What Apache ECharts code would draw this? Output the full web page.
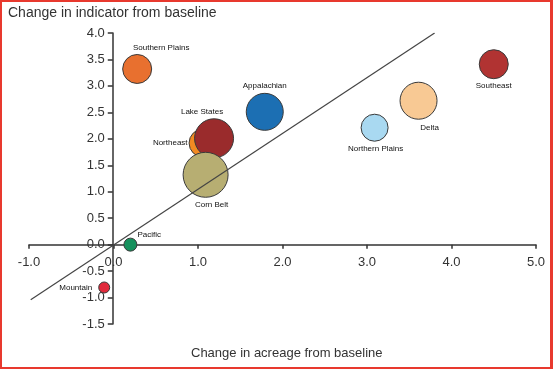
<!DOCTYPE html>
<html>
<head>
<meta charset="utf-8">
<script src="https://cdn.jsdelivr.net/npm/echarts@6/dist/echarts.min.js"></script>
<style>
  html, body { margin: 0; padding: 0; background: #fff; }
  #chart { position: absolute; left: 0; top: 0; width: 553px; height: 369px; }
  #frame { position: absolute; left: 0; top: 0; width: 553px; height: 369px; box-sizing: border-box;
           border: 2px solid #e8392e; border-right-width: 3px; pointer-events: none; z-index: 10; }
</style>
</head>
<body>
<div id="chart"></div>
<div id="frame"></div>
<script>
// ---- data ----
const regions    = ['Southern Plains', 'Appalachian', 'Northeast', 'Lake States', 'Corn Belt', 'Pacific', 'Mountain', 'Northern Plains', 'Delta', 'Southeast'];
const acreage    = [0.28, 1.79, 1.06, 1.19, 1.09, 0.20, -0.11, 3.09, 3.61, 4.50];
const indicator  = [3.32, 2.51, 1.92, 2.01, 1.32, 0.00, -0.81, 2.21, 2.72, 3.41];
const bubbleSize = [29, 37, 28, 39, 45, 13, 11, 27, 37, 29];
const xTicks = [-1, 0, 1, 2, 3, 4, 5];
const yTicks = [-1.5, -1, -0.5, 0, 0.5, 1, 1.5, 2, 2.5, 3, 3.5, 4];
const refLineX = [-0.98, 3.80];
const refLineY = [-1.04, 4.00];

// ---- styles ----
const colors = ['#e8702f', '#1c6fb3', '#f28a22', '#9a2b2c', '#b7ae72', '#16915d', '#e12a3c', '#a9d9f1', '#f8c994', '#b13332'];
const labelPos = [
  { position: 'top', distance: 2, offset: [24, 0] },
  { position: 'top', distance: 3, offset: [0, 0] },
  { position: 'left', distance: 1, offset: [0, 0] },
  { position: 'top', distance: 2, offset: [-12, 0] },
  { position: 'bottom', distance: 3, offset: [6, 0] },
  { position: 'right', distance: 0, offset: [0, -10] },
  { position: 'left', distance: 6, offset: [0, 0] },
  { position: 'bottom', distance: 3, offset: [1, 0] },
  { position: 'bottom', distance: 4, offset: [11, 0] },
  { position: 'bottom', distance: 3, offset: [0, 0] }
];

const FONT = '"Liberation Sans", Arial, Helvetica, sans-serif';

const bubbles = regions.map((name, i) => ({
  name: name,
  value: [acreage[i], indicator[i], bubbleSize[i]],
  itemStyle: { color: colors[i], borderColor: '#3a3a3a', borderWidth: 1, opacity: 1 },
  label: Object.assign({ show: true, formatter: '{b}', fontSize: 8, color: '#111', fontFamily: FONT }, labelPos[i])
}));

const axisCommon = {
  axisLine: { onZero: false, lineStyle: { color: '#333', width: 1.5 } },
  axisTick: { show: true, inside: false, lineStyle: { color: '#333', width: 1.5 } },
  splitLine: { show: false }
};

const chart = echarts.init(document.getElementById('chart'), null, { renderer: 'canvas' });
const option = {
  animation: false,
  backgroundColor: '#fff',
  grid: { left: 29, right: 17, top: 33, bottom: 45, containLabel: false },
  xAxis: Object.assign({}, axisCommon, {
    type: 'value', position: 'bottom', offset: 0,
    min: xTicks[0], max: xTicks[xTicks.length - 1], interval: 1,
    axisTick: Object.assign({}, axisCommon.axisTick, { length: 4 }),
    axisLabel: { margin: 11, fontSize: 13, color: '#333', fontFamily: FONT, formatter: v => v.toFixed(1) }
  }),
  yAxis: Object.assign({}, axisCommon, {
    type: 'value', position: 'left', offset: 0,
    min: yTicks[0], max: yTicks[yTicks.length - 1], interval: 0.5,
    axisTick: Object.assign({}, axisCommon.axisTick, { length: 5 }),
    axisLabel: { margin: 8, fontSize: 13, color: '#333', fontFamily: FONT, formatter: v => v.toFixed(1) }
  }),
  graphic: [
    { type: 'text', left: 8, top: 6, style: { text: 'Change in indicator from baseline', fill: '#333', font: '14px ' + FONT } },
    { type: 'text', left: 191, top: 347, style: { text: 'Change in acreage from baseline', fill: '#333', font: '13px ' + FONT } }
  ],
  series: [
    {
      type: 'scatter',
      data: bubbles,
      symbolSize: d => d[2],
      z: 2
    },
    {
      type: 'line',
      data: refLineX.map((x, i) => [x, refLineY[i]]),
      symbol: 'none',
      lineStyle: { color: '#444', width: 1.2 },
      z: 3,
      silent: true
    }
  ]
};
chart.setOption(option);

// move each axis (line, ticks and labels) to the other axis' zero, via the library's scales
const origin = chart.convertToPixel({ gridIndex: 0 }, [0, 0]);
const corner = chart.convertToPixel({ gridIndex: 0 }, [xTicks[0], yTicks[0]]);
chart.setOption({
  xAxis: { offset: origin[1] - corner[1] },
  yAxis: { offset: corner[0] - origin[0] }
});
</script>
</body>
</html>
